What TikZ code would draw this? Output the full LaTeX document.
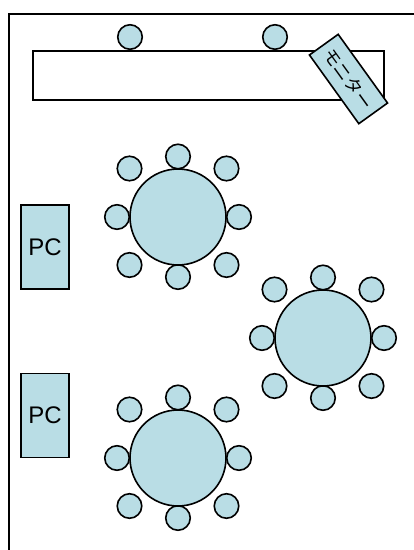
\documentclass[tikz,border=0pt]{standalone}
\usepackage{fontspec}
\setmainfont{Liberation Sans}
\newfontfamily\cjk{Noto Sans CJK JP}
\definecolor{lb}{HTML}{B9DDE5}
\tikzset{
 x=1pt,y=-1pt,
 seat/.style={circle,draw=black,fill=lb,line width=1.6pt,minimum size=24.5pt,inner sep=0pt,outer sep=0pt},
 tabl/.style={circle,draw=black,fill=lb,line width=1.6pt,minimum size=96pt,inner sep=0pt,outer sep=0pt},
 pc/.style={rectangle,draw=black,fill=lb,line width=1.4pt,minimum width=48pt,minimum height=84pt,inner sep=0pt,font=\fontsize{24}{26}\selectfont},
 wall/.style={draw=black,line width=2pt}
}
\begin{document}
\begin{tikzpicture}
\useasboundingbox (0,0) rectangle (414,550);
\coordinate (wb) at (9,550);
\coordinate (wc) at (9,13.5);
\coordinate (we) at (414,13.5);
\path[wall] (wb) -- (wc) -- (we);
\node[seat] (s1) at (130,37) {};
\node[seat] (s2) at (275,37) {};
\node[rectangle,draw=black,fill=white,line width=1.6pt,minimum width=351pt,minimum height=48.5pt,inner sep=0pt] (desk) at (208.5,75.5) {};
\node[rectangle,draw=black,fill=lb,line width=1.6pt,minimum width=84.6pt,minimum height=35.4pt,inner sep=0pt,rotate=-54.3,font=\cjk\fontsize{17.5}{19}\selectfont] (mon) at (348.5,79) {モニター};
\node[pc] (pc1) at (45,247) {PC};
\node[pc] (pc2) at (45,415.3) {PC};
\foreach \n/\x/\y in {a/178/217,b/323/338,c/178/458}{
 \foreach \i/\dx/\dy in {1/0/-60.5,2/48.5/-48.5,3/61/0,4/48.5/48,5/0/60,6/-48.5/48,7/-61/0,8/-48.5/-48.5}{
  \node[seat] (\n\i) at (\x+\dx,\y+\dy) {};
 }
 \node[tabl] (\n) at (\x,\y) {};
}
\end{tikzpicture}
\end{document}
